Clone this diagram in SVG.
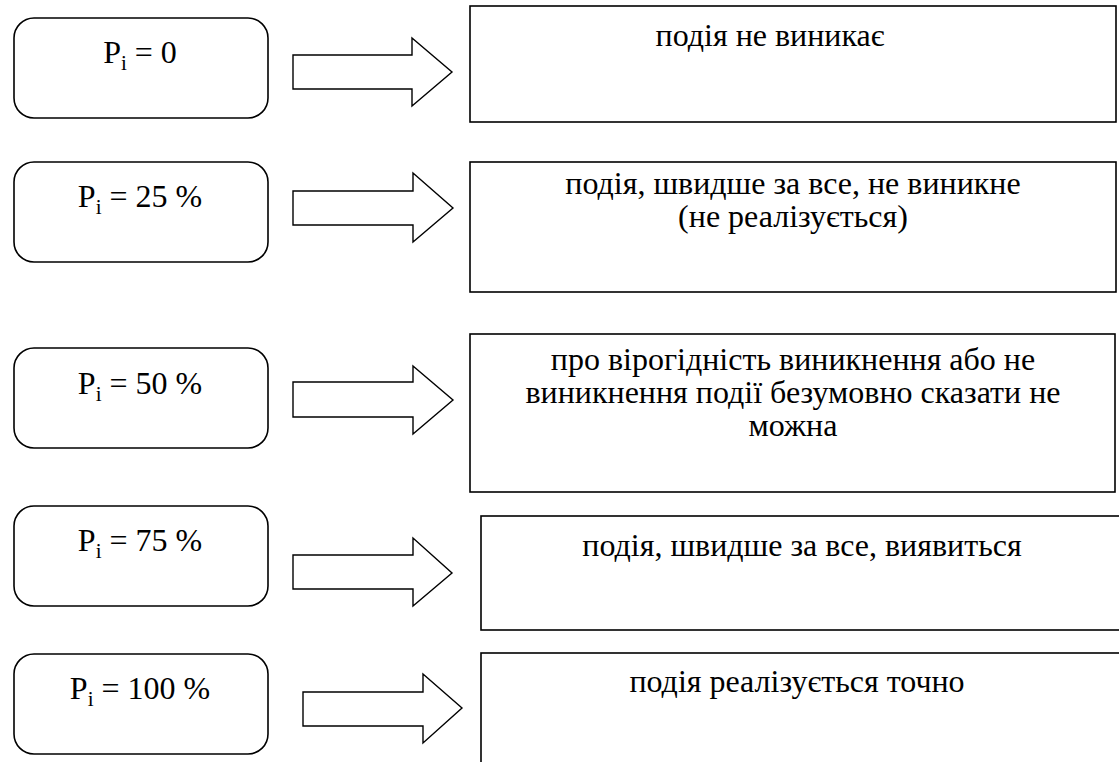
<svg xmlns="http://www.w3.org/2000/svg" width="1119" height="762" viewBox="0 0 1119 762">
<style>
.rb{fill:#fff;stroke:#000;stroke-width:1.6}
.bx{fill:#fff;stroke:#000;stroke-width:1.6}
.ar{fill:#fff;stroke:#000;stroke-width:1.4;stroke-linejoin:miter}
.c{text-anchor:middle}
</style>
<rect width="1119" height="762" fill="#fff"/>
<g font-family="'Liberation Serif', 'Times New Roman', 'DejaVu Serif', serif" font-size="32" fill="#000">
<g id="p0"><rect class="rb" x="14" y="18" width="254" height="100" rx="20"/><text class="c" x="140" y="63">P<tspan font-size="21" dy="7">i</tspan><tspan dy="-7"> = 0</tspan></text></g>
<g id="p25"><rect class="rb" x="14" y="162" width="254" height="100" rx="20"/><text class="c" x="140" y="207">P<tspan font-size="21" dy="7">i</tspan><tspan dy="-7"> = 25 %</tspan></text></g>
<g id="p50"><rect class="rb" x="14" y="348" width="254" height="100" rx="20"/><text class="c" x="140" y="394">P<tspan font-size="21" dy="7">i</tspan><tspan dy="-7"> = 50 %</tspan></text></g>
<g id="p75"><rect class="rb" x="14" y="506" width="254" height="100" rx="20"/><text class="c" x="140" y="551">P<tspan font-size="21" dy="7">i</tspan><tspan dy="-7"> = 75 %</tspan></text></g>
<g id="p100"><rect class="rb" x="14" y="654" width="254" height="100" rx="20"/><text class="c" x="140" y="699">P<tspan font-size="21" dy="7">i</tspan><tspan dy="-7"> = 100 %</tspan></text></g>
<g id="connectors">
<polygon class="ar" points="293,55 412,55 412,38 452,72 412,106 412,89 293,89"/>
<polygon class="ar" points="293,191 413,191 413,173 453,208 413,242 413,225 293,225"/>
<polygon class="ar" points="293,382 413,382 413,366 453,400 413,434 413,417 293,417"/>
<polygon class="ar" points="293,555 413,555 413,538 452,573 413,606 413,589 293,589"/>
<polygon class="ar" points="303,692 423,692 423,674 462,708 423,743 423,726 303,726"/>
</g>
<g id="r0"><rect class="bx" x="470" y="6" width="646" height="116"/><text class="c" x="770" y="46">подія не виникає</text></g>
<g id="r25"><rect class="bx" x="470" y="162" width="646" height="130"/><text class="c" x="793" y="194">подія, швидше за все, не виникне</text><text class="c" x="793" y="227">(не реалізується)</text></g>
<g id="r50"><rect class="bx" x="470" y="334" width="645" height="158"/><text class="c" x="793" y="370">про вірогідність виникнення або не</text><text class="c" x="793" y="403">виникнення події безумовно сказати не</text><text class="c" x="793" y="436">можна</text></g>
<g id="r75"><rect class="bx" x="481" y="516" width="650" height="114"/><text class="c" x="802" y="556">подія, швидше за все, виявиться</text></g>
<g id="r100"><rect class="bx" x="481" y="653" width="650" height="130"/><text class="c" x="797" y="692">подія реалізується точно</text></g>
</g>
</svg>
